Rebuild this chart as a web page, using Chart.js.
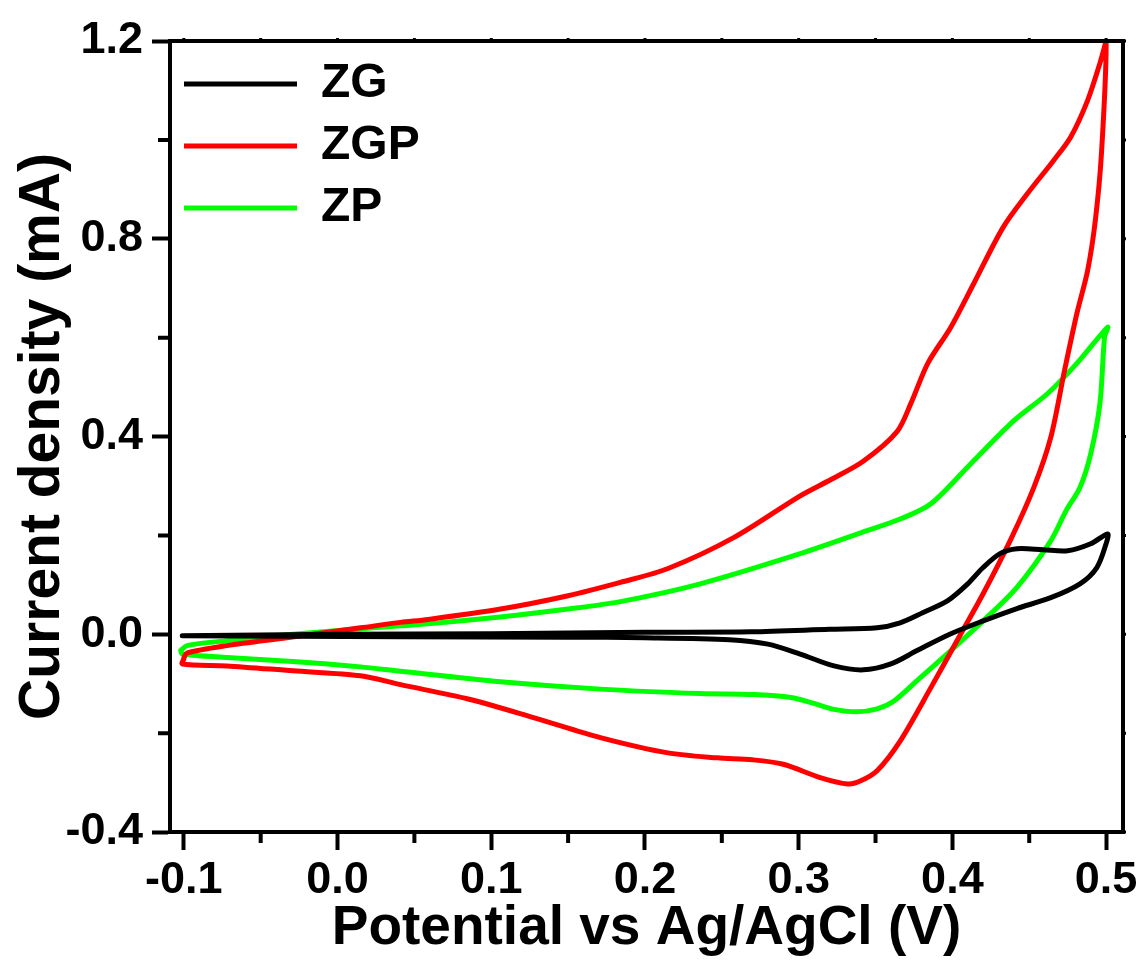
<!DOCTYPE html>
<html>
<head>
<meta charset="utf-8">
<title>CV curves</title>
<script src="https://cdn.jsdelivr.net/npm/chart.js@4.4.1/dist/chart.umd.min.js"></script>
<style>
  html, body { margin: 0; padding: 0; background: #fff; }
  #wrap { width: 1143px; height: 966px; }
</style>
</head>
<body>
<div id="wrap"><canvas id="cvChart"></canvas></div>
<script>
// scan order: forward sweep -0.1 -> 0.5 V, then back to -0.1 V
const zgPotential = [
  -0.101, 0.000, 0.100, 0.200, 0.269, 0.320, 0.351, 0.366, 0.381, 0.397, 0.410, 0.420, 0.431, 0.442, 0.459, 0.475, 0.490, 0.501,
  0.500, 0.494, 0.483, 0.464, 0.442, 0.420, 0.399, 0.377, 0.360, 0.342, 0.323, 0.301, 0.280, 0.255, 0.200, 0.150, 0.041, -0.101
];
const zgCurrent = [
  -0.003, 0.000, 0.001, 0.004, 0.005, 0.010, 0.013, 0.023, 0.044, 0.068, 0.102, 0.135, 0.163, 0.173, 0.171, 0.169, 0.183, 0.203,
  0.183, 0.135, 0.102, 0.074, 0.052, 0.027, 0.001, -0.033, -0.060, -0.072, -0.064, -0.040, -0.020, -0.011, -0.007, -0.006, -0.005, -0.003
];

const zgpPotential = [
  -0.100, -0.098, -0.072, -0.033, 0.015, 0.041, 0.059, 0.106, 0.150, 0.184, 0.215, 0.258, 0.301, 0.321, 0.342, 0.364, 0.373,
  0.384, 0.399, 0.414, 0.433, 0.449, 0.466, 0.477, 0.488, 0.496, 0.500,
  0.497, 0.493, 0.488, 0.481, 0.473, 0.464, 0.453, 0.438, 0.420, 0.403, 0.386, 0.366, 0.351, 0.340, 0.332, 0.314, 0.290,
  0.270, 0.247, 0.215, 0.171, 0.128, 0.085, 0.041, 0.015, -0.029, -0.072, -0.101, -0.100
];
const zgpCurrent = [
  -0.048, -0.038, -0.023, -0.007, 0.013, 0.024, 0.030, 0.051, 0.078, 0.105, 0.133, 0.196, 0.280, 0.313, 0.350, 0.410, 0.467,
  0.548, 0.621, 0.710, 0.823, 0.892, 0.959, 1.006, 1.080, 1.155, 1.200,
  0.973, 0.837, 0.736, 0.649, 0.534, 0.398, 0.297, 0.192, 0.082, -0.013, -0.108, -0.216, -0.276, -0.297, -0.303, -0.290, -0.263,
  -0.254, -0.250, -0.240, -0.209, -0.169, -0.131, -0.102, -0.084, -0.074, -0.064, -0.060, -0.050
];

const zpPotential = [
  -0.102, -0.098, -0.072, -0.033, 0.015, 0.041, 0.059, 0.106, 0.150, 0.184, 0.236, 0.301, 0.345, 0.366, 0.386, 0.412, 0.440, 0.462, 0.481, 0.501,
  0.499, 0.496, 0.490, 0.483, 0.474, 0.464, 0.442, 0.420, 0.399, 0.377, 0.362, 0.351, 0.338, 0.323, 0.310, 0.295, 0.270, 0.236, 0.171, 0.106,
  0.041, 0.015, -0.029, -0.072, -0.101, -0.102
];
const zpCurrent = [
  -0.033, -0.023, -0.013, -0.001, 0.011, 0.017, 0.021, 0.035, 0.051, 0.066, 0.102, 0.163, 0.210, 0.233, 0.264, 0.345, 0.432, 0.487, 0.548, 0.621,
  0.601, 0.467, 0.365, 0.297, 0.250, 0.189, 0.095, 0.027, -0.033, -0.094, -0.135, -0.151, -0.157, -0.152, -0.140, -0.128, -0.122, -0.120, -0.111, -0.096,
  -0.075, -0.066, -0.055, -0.047, -0.040, -0.033
];

const seriesNames = ['ZG', 'ZGP', 'ZP'];
const seriesColors = ['#000000', '#ff0000', '#00ff00'];

const xMin = -0.109, xMax = 0.511, xStep = 0.1;
const yMin = -0.4, yMax = 1.2, yStep = 0.4;

const FONT = "'Liberation Sans', Arial, sans-serif";

function toPoints(xs, ys) {
  return xs.map((v, i) => ({ x: v, y: ys[i] }));
}

// frame: top/right border, minor ticks
const frameTicks = {
  id: 'frameTicks',
  afterDraw(chart) {
    const { ctx, chartArea: a, scales: { x, y } } = chart;
    const xt = x.ticks.map(t => t.value);
    const yt = y.ticks.map(t => t.value);
    const xMinor = xt.slice(1).map((v, i) => (v + xt[i]) / 2);
    const yMinor = yt.slice(1).map((v, i) => (v + yt[i]) / 2);
    ctx.save();
    ctx.strokeStyle = '#000';
    ctx.lineWidth = 4;
    ctx.lineCap = 'square';
    ctx.beginPath();
    ctx.moveTo(a.left, a.top);
    ctx.lineTo(a.right, a.top);
    ctx.lineTo(a.right, a.bottom);
    ctx.stroke();

    ctx.lineCap = 'butt';
    ctx.beginPath();
    xMinor.forEach(v => {
      const px = x.getPixelForValue(v);
      ctx.moveTo(px, a.bottom);
      ctx.lineTo(px, a.bottom + 11);
    });
    yMinor.forEach(v => {
      const py = y.getPixelForValue(v);
      ctx.moveTo(a.left, py);
      ctx.lineTo(a.left - 12, py);
    });
    ctx.stroke();

    // tiny stubs on the top / right frame
    ctx.lineWidth = 3;
    ctx.beginPath();
    xt.concat(xMinor).forEach(v => {
      const px = x.getPixelForValue(v);
      ctx.moveTo(px, a.top);
      ctx.lineTo(px, a.top - 3);
    });
    yt.concat(yMinor).forEach(v => {
      const py = y.getPixelForValue(v);
      ctx.moveTo(a.right, py);
      ctx.lineTo(a.right + 3, py);
    });
    ctx.stroke();
    ctx.restore();
  }
};

const ctx = document.getElementById('cvChart').getContext('2d');

const chart = new Chart(ctx, {
  type: 'scatter',
  data: {
    datasets: [
      { data: toPoints(zgPotential, zgCurrent) },
      { data: toPoints(zgpPotential, zgpCurrent) },
      { data: toPoints(zpPotential, zpCurrent) }
    ].map((d, i) => ({
      ...d,
      label: seriesNames[i],
      showLine: true,
      borderColor: seriesColors[i],
      backgroundColor: seriesColors[i],
      borderWidth: 5,
      borderCapStyle: 'round',
      borderJoinStyle: 'round',
      pointRadius: 0,
      pointHoverRadius: 0,
      tension: 0.3,
      fill: false
    }))
  },
  options: {
    responsive: true,
    maintainAspectRatio: false,
    animation: false,
    layout: { padding: { top: 41, right: 20, left: 0, bottom: 0 } },
    plugins: {
      tooltip: { enabled: false },
      legend: {
        position: 'chartArea',
        align: 'start',
        // empty title only pushes the entries below the top frame
        title: { display: true, text: '', font: { size: 10 }, padding: { top: 34, bottom: 0 } },
        labels: {
          usePointStyle: true,
          pointStyle: 'line',
          pointStyleWidth: 113,
          padding: 14,
          color: '#000',
          font: { family: FONT, size: 48, weight: 'bold' }
        }
      }
    },
    scales: {
      x: {
        type: 'linear',
        min: xMin,
        max: xMax,
        afterFit(scale) { scale.height = 134; },
        border: { display: true, width: 4, color: '#000' },
        grid: { drawOnChartArea: false, drawTicks: true, tickLength: 18, tickWidth: 4, tickColor: '#000' },
        ticks: {
          stepSize: xStep,
          includeBounds: false,
          maxRotation: 0,
          padding: 4,
          color: '#000',
          font: { family: FONT, size: 45, weight: 'bold' },
          callback: v => (Math.abs(v) < 1e-9 ? 0 : v).toFixed(1)
        },
        title: {
          display: true,
          text: 'Potential vs Ag/AgCl (V)',
          color: '#000',
          padding: { top: 0, bottom: 4 },
          font: { family: FONT, size: 55, weight: 'bold' }
        }
      },
      y: {
        type: 'linear',
        min: yMin,
        max: yMax,
        afterFit(scale) { scale.width = 170; },
        border: { display: true, width: 4, color: '#000' },
        grid: { drawOnChartArea: false, drawTicks: true, tickLength: 18, tickWidth: 4, tickColor: '#000' },
        ticks: {
          stepSize: yStep,
          padding: 9,
          color: '#000',
          font: { family: FONT, size: 45, weight: 'bold' },
          callback: v => (Math.abs(v) < 1e-9 ? 0 : v).toFixed(1)
        },
        title: {
          display: true,
          text: 'Current density (mA)',
          color: '#000',
          padding: { top: 9, bottom: 0 },
          font: { family: FONT, size: 57, weight: 'bold' }
        }
      }
    }
  },
  plugins: [frameTicks]
});
</script>
</body>
</html>
